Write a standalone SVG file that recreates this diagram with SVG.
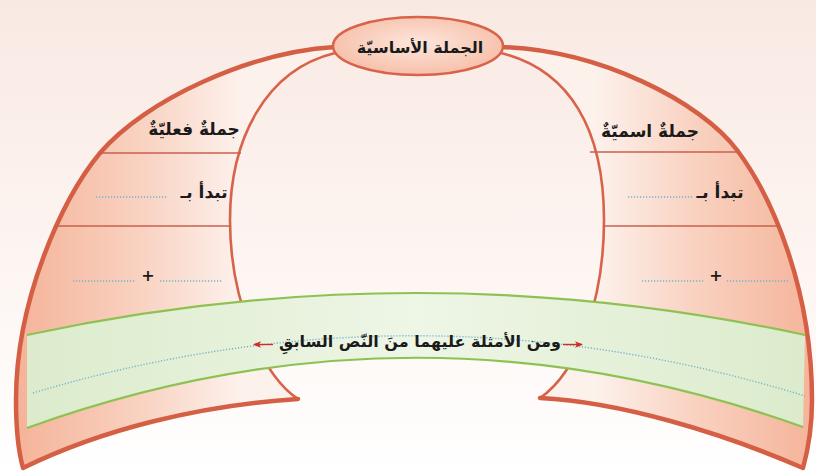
<svg xmlns="http://www.w3.org/2000/svg" width="816" height="476" viewBox="0 0 816 476">
<defs>
<linearGradient id="bg" x1="0" y1="0" x2="0" y2="1">
<stop offset="0" stop-color="#f9e9e3"/>
<stop offset="0.6" stop-color="#fdf6f3"/>
<stop offset="1" stop-color="#ffffff"/>
</linearGradient>
<linearGradient id="salL" gradientUnits="userSpaceOnUse" x1="20" y1="0" x2="240" y2="0">
<stop offset="0" stop-color="#f5b49a"/>
<stop offset="0.55" stop-color="#f9d2c1"/>
<stop offset="1" stop-color="#fdf1ec"/>
</linearGradient>
<linearGradient id="salR" gradientUnits="userSpaceOnUse" x1="812" y1="0" x2="596" y2="0">
<stop offset="0" stop-color="#f5b49a"/>
<stop offset="0.55" stop-color="#f9d2c1"/>
<stop offset="1" stop-color="#fdf1ec"/>
</linearGradient>
<radialGradient id="ovalG" cx="0.5" cy="0.45" r="0.6">
<stop offset="0" stop-color="#fde6dc"/>
<stop offset="1" stop-color="#f6bca5"/>
</radialGradient>
<linearGradient id="bandG" x1="0" y1="0" x2="1" y2="0">
<stop offset="0" stop-color="#dcebcc"/>
<stop offset="0.5" stop-color="#eef6e6"/>
<stop offset="1" stop-color="#dcebcc"/>
</linearGradient>
<marker id="arr" markerWidth="8" markerHeight="8" refX="7" refY="4" orient="auto" markerUnits="userSpaceOnUse">
<path d="M0,0.8 L8,4 L0,7.2 L2,4 Z" fill="#d42a2a"/>
</marker>
</defs>
<style>
.shape{stroke:#d9634a;stroke-width:2.6;stroke-linejoin:round}
.outer{fill:none;stroke:#d45f45;stroke-width:4.5;stroke-linecap:round;stroke-linejoin:round}
.div{stroke:#c9604c;stroke-width:1.4}
.t{font-family:"DejaVu Sans",sans-serif;font-weight:bold;fill:#1a1a1a;text-anchor:middle}
.dot{fill:none;stroke:#6fb3d2;stroke-width:1.4;stroke-dasharray:1.2 1.8}
.green{fill:none;stroke:#8dc253;stroke-width:2.2}
.plus{font-family:"DejaVu Sans",sans-serif;font-size:16px;font-weight:bold;fill:#1a1a1a;text-anchor:middle}
</style>
<rect width="816" height="476" fill="url(#bg)"/>

<g id="left-branch">
<path class="shape" fill="url(#salL)" d="M335,47 C250,52 145,100 100,153 C62,199 16,300 16,400 C16,430 18,450 23,468 C100,430 200,405 298,399 C262,375 230,300 230,220 C230,140 265,70 335,53 Z"/>
<path class="outer" d="M335,47 C250,52 145,100 100,153 C62,199 16,300 16,400 C16,430 18,450 23,468 C100,430 200,405 298,399"/>
<line class="div" x1="100" y1="153" x2="241" y2="153"/>
<line class="div" x1="55" y1="226" x2="231" y2="226"/>
<text class="t" x="194" y="135" font-size="17">جملةٌ فعليّةٌ</text>
<text class="t" x="204" y="198" font-size="17">تبدأ بـ</text>
<line class="dot" x1="96" y1="197" x2="168" y2="197"/>
<line class="dot" x1="73" y1="281" x2="136" y2="281"/>
<text class="plus" x="148" y="281">+</text>
<line class="dot" x1="160" y1="281" x2="222" y2="281"/>
</g>

<g id="right-branch">
<path class="shape" fill="url(#salR)" d="M501,47 C600,50 701,102 737,150 C773,198 812,290 812,400 C812,430 808,450 803,468 C720,432 620,402 540,398 C578,372 604,300 604,220 C604,130 570,70 501,53 Z"/>
<path class="outer" d="M501,47 C600,50 701,102 737,150 C773,198 812,290 812,400 C812,430 808,450 803,468 C720,432 620,402 540,398"/>
<line class="div" x1="590" y1="152" x2="738" y2="152"/>
<line class="div" x1="603" y1="226" x2="779" y2="226"/>
<text class="t" x="650" y="137" font-size="17">جملةٌ اسميّةٌ</text>
<text class="t" x="720" y="198" font-size="17">تبدأ بـ</text>
<line class="dot" x1="628" y1="197" x2="693" y2="197"/>
<line class="dot" x1="642" y1="281" x2="705" y2="281"/>
<text class="plus" x="716" y="281">+</text>
<line class="dot" x1="727" y1="281" x2="790" y2="281"/>
</g>

<g id="oval">
<ellipse cx="418" cy="46" rx="85" ry="29" fill="url(#ovalG)" stroke="#d9634a" stroke-width="2.5"/>
<text class="t" x="420" y="53" font-size="16">الجملة الأساسيّة</text>
</g>

<g id="band">
<path fill="url(#bandG)" d="M27,335 Q416,251 805,335 L803,427 Q415,288 27,428 Z"/>
<path class="green" d="M27,335 Q416,251 805,335"/>
<path class="green" d="M27,428 Q415,288 803,427"/>
<path class="dot" d="M33,393 Q419,277 805,396"/>
<text class="t" x="420" y="347" font-size="16">ومن الأمثلة عليهما منَ النّص السابقِ</text>
</g>

<g id="connectors">
<line x1="273" y1="344.5" x2="254" y2="344.5" stroke="#d42a2a" stroke-width="1.4" marker-end="url(#arr)"/>
<line x1="563" y1="344.5" x2="582" y2="344.5" stroke="#d42a2a" stroke-width="1.4" marker-end="url(#arr)"/>
</g>
</svg>
